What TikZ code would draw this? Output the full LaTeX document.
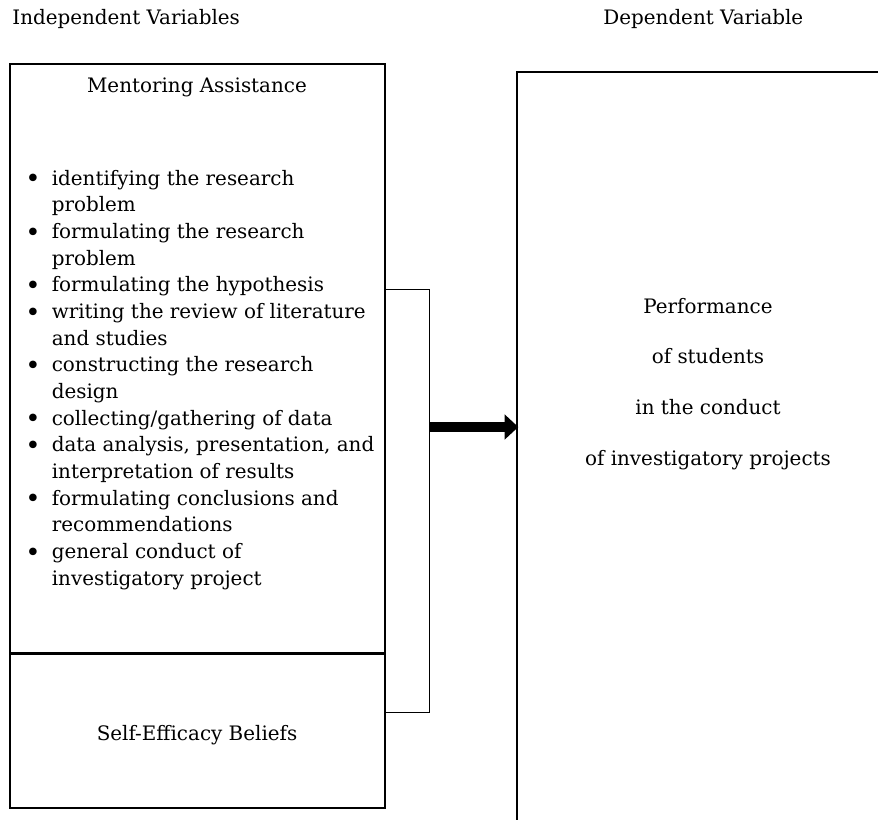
\documentclass[tikz,border=0pt]{standalone}
\usepackage{fontspec}
\setmainfont{DejaVu Serif}
\usepackage{tikz}
\usetikzlibrary{arrows.meta,positioning,calc}
\newcommand{\itembullet}{\hspace*{-1.5pt}\raisebox{-1.4pt}{\scalebox{1.3}{\textbullet}}}

\begin{document}
\begin{tikzpicture}[
    x=0.018cm, y=-0.018cm,
    font=\fontsize{10.2}{13.67}\selectfont,
    box/.style={draw=black, line width=0.75pt, inner sep=0pt},
    divider/.style={line width=1.3pt},
    link/.style={line width=0.5pt},
    bigarrow/.style={line width=5.6pt, -{Triangle[length=7pt, width=12.5pt]}}
  ]
    \useasboundingbox (0,0) rectangle (878,819);
    \clip (0,0) rectangle (878,819);
    % headers
    \node[anchor=base west, inner sep=0pt] (indep) at (12,24) {Independent Variables};
    \node[anchor=base west, inner sep=0pt] (dep) at (603,24) {Dependent Variable};
    % independent variables
    \node[box, minimum width=6.75cm, minimum height=10.602cm] (ment) at (197.5,358.5) {};
    \node[box, minimum width=6.75cm, minimum height=2.79cm] (self) at (197.5,730.5) {};
    \draw[divider] (ment.south west) -- (ment.south east);
    \node[anchor=base, inner sep=0pt] (menttitle) at (197,92) {Mentoring Assistance};
    \node[anchor=base west, inner sep=0pt] (items) at (28,185) {\begin{tabular}[t]{@{}p{12pt}@{}l@{}}
      \itembullet & identifying the research\\
                  & problem\\
      \itembullet & formulating the research\\
                  & problem\\
      \itembullet & formulating the hypothesis\\
      \itembullet & writing the review of literature\\
                  & and studies\\
      \itembullet & constructing the research\\
                  & design\\
      \itembullet & collecting/gathering of data\\
      \itembullet & data analysis, presentation, and\\
                  & interpretation of results\\
      \itembullet & formulating conclusions and\\
                  & recommendations\\
      \itembullet & general conduct of\\
                  & investigatory project
    \end{tabular}};
    \node[anchor=base, inner sep=0pt] (selftitle) at (197,740) {Self-Efficacy Beliefs};
    % dependent variable
    \node[box, minimum width=6.894cm, minimum height=13.824cm] (perf) at (708.5,456) {};
    \node[anchor=base, inner sep=0pt] (perftxt) at (708,313) {\renewcommand\arraystretch{1.91}\begin{tabular}[t]{@{}c@{}}
      Performance\\
      of students\\
      in the conduct\\
      of investigatory projects
    \end{tabular}};
    % connectors
    \coordinate (jtop) at (429,289);
    \coordinate (jbot) at (429,712);
    \coordinate (jmid) at (429,427);
    \draw[link] (ment.east |- jtop) -- (jtop) -- (jbot) -- (self.east |- jbot);
    \draw[bigarrow] (jmid) -- ($(perf.west |- jmid)+(2,0)$);
  \end{tikzpicture}
\end{document}
